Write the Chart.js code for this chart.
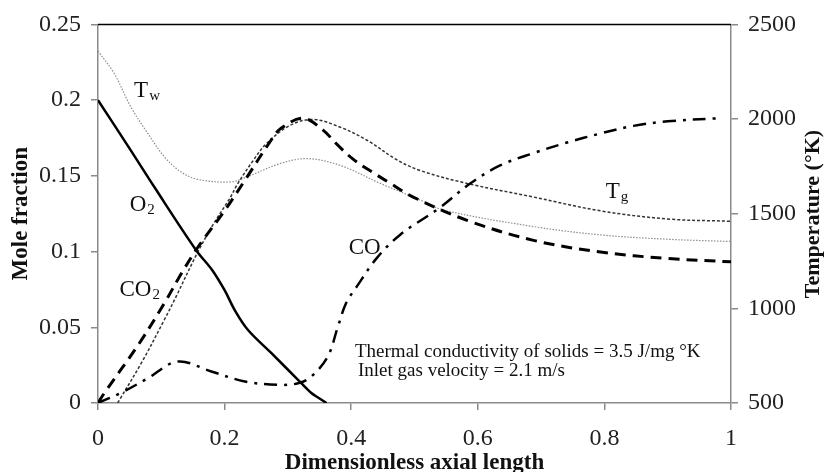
<!DOCTYPE html>
<html>
<head>
<meta charset="utf-8">
<script src="https://cdn.jsdelivr.net/npm/chart.js@4/dist/chart.umd.min.js"></script>
<style>
  body { margin: 0; background: #fff; }
  #wrap { width: 826px; height: 472px; position: relative; }
</style>
</head>
<body>
<div id="wrap"><canvas id="chartProfile"></canvas></div>
<script>
// Axial position (dimensionless) and values
const o2X = [0, 0.05, 0.089, 0.155, 0.18, 0.2, 0.216, 0.237, 0.274, 0.316, 0.337, 0.35, 0.361];
const o2Y = [0.2, 0.168, 0.1426, 0.1009, 0.088, 0.0745, 0.0614, 0.0482, 0.0329, 0.0153, 0.0066, 0.003, 0];

const co2X = [0, 0.01, 0.063, 0.105, 0.131, 0.158, 0.2, 0.232, 0.271, 0.288, 0.324, 0.356, 0.377, 0.403, 0.435, 0.462, 0.498, 0.583, 0.688, 0.794, 0.9, 1];
const co2Y = [0, 0.0066, 0.038, 0.066, 0.085, 0.103, 0.127, 0.147, 0.172, 0.181, 0.188, 0.18, 0.171, 0.161, 0.152, 0.145, 0.136, 0.1206, 0.1074, 0.0997, 0.0954, 0.0932];

const coX = [0, 0.04, 0.079, 0.126, 0.179, 0.232, 0.284, 0.316, 0.337, 0.363, 0.379, 0.392, 0.409, 0.44, 0.477, 0.54, 0.588, 0.636, 0.688, 0.741, 0.794, 0.846, 0.9, 0.978];
const coY = [0, 0.0075, 0.0164, 0.0274, 0.0208, 0.0142, 0.012, 0.013, 0.0175, 0.0307, 0.0504, 0.066, 0.077, 0.0955, 0.111, 0.129, 0.145, 0.157, 0.165, 0.172, 0.178, 0.183, 0.186, 0.188];

const tgX = [0.031, 0.07, 0.105, 0.121, 0.158, 0.185, 0.208, 0.221, 0.245, 0.266, 0.303, 0.34, 0.382, 0.425, 0.472, 0.509, 0.583, 0.688, 0.794, 0.9, 1];
const tgY = [500, 720, 941, 1046, 1300, 1460, 1580, 1660, 1780, 1870, 1966, 1998, 1958, 1888, 1785, 1728, 1660, 1588, 1515, 1472, 1460];

const twX = [0, 0.026, 0.052, 0.079, 0.105, 0.131, 0.158, 0.21, 0.235, 0.288, 0.33, 0.382, 0.446, 0.509, 0.546, 0.688, 0.794, 0.9, 1];
const twY = [2360, 2238, 2063, 1923, 1800, 1721, 1681, 1668, 1694, 1765, 1791, 1756, 1660, 1572, 1519, 1432, 1388, 1365, 1353];

// Curve labels: text, subscript, x, y, axis
const labelText = ["T", "O", "CO", "CO", "T"];
const labelSub = ["w", "2", "2", "", "g"];
const labelX = [0.057, 0.05, 0.034, 0.396, 0.802];
const labelY = [2161, 0.1318, 0.0759, 0.1035, 1625];
const labelAxis = ["y1", "y", "y", "y", "y1"];

const noteLines = ["Thermal conductivity of solids = 3.5 J/mg \u00B0K", "Inlet gas velocity = 2.1 m/s"];

const serif = '"Liberation Serif", "Times New Roman", serif';
const toPoints = (xs, ys) => xs.map((x, i) => ({ x: x, y: ys[i] }));

// Frame line on top, curve labels, notes and right axis title
const extrasPlugin = {
    id: "extras",
    afterDraw(chart) {
        const { ctx, chartArea, scales } = chart;
        ctx.save();
        ctx.strokeStyle = "#000";
        ctx.lineWidth = 1.5;
        ctx.beginPath();
        ctx.moveTo(chartArea.left, chartArea.top);
        ctx.lineTo(chartArea.right, chartArea.top);
        ctx.stroke();

        ctx.fillStyle = "#111";
        ctx.textBaseline = "alphabetic";
        ctx.textAlign = "left";
        labelText.forEach((txt, i) => {
            const px = scales.x.getPixelForValue(labelX[i]);
            const py = scales[labelAxis[i]].getPixelForValue(labelY[i]) + 8;
            ctx.font = "23px " + serif;
            ctx.fillText(txt, px, py);
            const w = ctx.measureText(txt).width;
            if (labelSub[i]) {
                ctx.font = "15px " + serif;
                ctx.fillText(labelSub[i], px + w + 1, py + 3);
            }
        });

        ctx.font = "19px " + serif;
        const nx = scales.x.getPixelForValue(0.406);
        ctx.fillText(noteLines[0], nx, scales.y.getPixelForValue(0.0345) + 6);
        ctx.fillText(noteLines[1], nx + 3, scales.y.getPixelForValue(0.022) + 6);

        ctx.font = "bold 22px " + serif;
        ctx.textAlign = "center";
        ctx.textBaseline = "middle";
        ctx.translate(813, 214);
        ctx.rotate(-Math.PI / 2);
        ctx.fillText("Temperature (\u00B0K)", 0, 0);
        ctx.restore();
    }
};

const axisGrey = "#8a8a8a";
const tickFont = { family: serif, size: 24 };

new Chart(document.getElementById("chartProfile"), {
    type: "line",
    data: {
        datasets: [
            { label: "O2", data: toPoints(o2X, o2Y), yAxisID: "y", borderColor: "#000", borderWidth: 2.5 },
            { label: "CO2", data: toPoints(co2X, co2Y), yAxisID: "y", borderColor: "#000", borderWidth: 3, borderDash: [11, 7] },
            { label: "CO", data: toPoints(coX, coY), yAxisID: "y", borderColor: "#000", borderWidth: 2.5, borderDash: [13, 7, 3, 7] },
            { label: "Tg", data: toPoints(tgX, tgY), yAxisID: "y1", borderColor: "#333", borderWidth: 1.5, borderDash: [3, 2] },
            { label: "Tw", data: toPoints(twX, twY), yAxisID: "y1", borderColor: "#8c8c8c", borderWidth: 1.2, borderDash: [1.5, 1.5] }
        ]
    },
    options: {
        responsive: true,
        maintainAspectRatio: false,
        animation: false,
        layout: { padding: { top: 23, left: 0, right: 0, bottom: 0 } },
        elements: { point: { radius: 0 }, line: { tension: 0.35, fill: false } },
        plugins: { legend: { display: false }, tooltip: { enabled: false } },
        scales: {
            x: {
                type: "linear",
                min: 0,
                max: 1,
                afterFit: scale => { scale.height = 69; },
                border: { color: axisGrey, width: 1.5 },
                grid: { drawOnChartArea: false, color: axisGrey, tickLength: 7, lineWidth: 1.5 },
                ticks: { stepSize: 0.2, font: tickFont, color: "#222", padding: 14, maxRotation: 0,
                    callback: v => String(+v.toFixed(1)) },
                title: { display: true, text: "Dimensionless axial length", color: "#111",
                    font: { family: serif, size: 23, weight: "bold", lineHeight: 0.8 }, padding: { top: 0, bottom: 0 } }
            },
            y: {
                position: "left",
                min: 0,
                max: 0.25,
                afterFit: scale => { scale.width = 98; },
                border: { color: axisGrey, width: 1.5 },
                grid: { drawOnChartArea: false, color: axisGrey, tickLength: 7, lineWidth: 1.5 },
                ticks: { stepSize: 0.05, font: tickFont, color: "#222", padding: 10,
                    callback: v => String(+v.toFixed(2)) },
                title: { display: true, text: "Mole fraction", color: "#111",
                    font: { family: serif, size: 23, weight: "bold", lineHeight: 1 }, padding: { top: 10, bottom: 0 } }
            },
            y1: {
                position: "right",
                min: 500,
                max: 2500,
                afterFit: scale => { scale.width = 95; },
                border: { color: axisGrey, width: 1.5 },
                grid: { drawOnChartArea: false, color: axisGrey, tickLength: 7, lineWidth: 1.5 },
                ticks: { stepSize: 500, font: tickFont, color: "#222", padding: 10,
                    callback: v => String(v) }
            }
        }
    },
    plugins: [extrasPlugin]
});
</script>
</body>
</html>
